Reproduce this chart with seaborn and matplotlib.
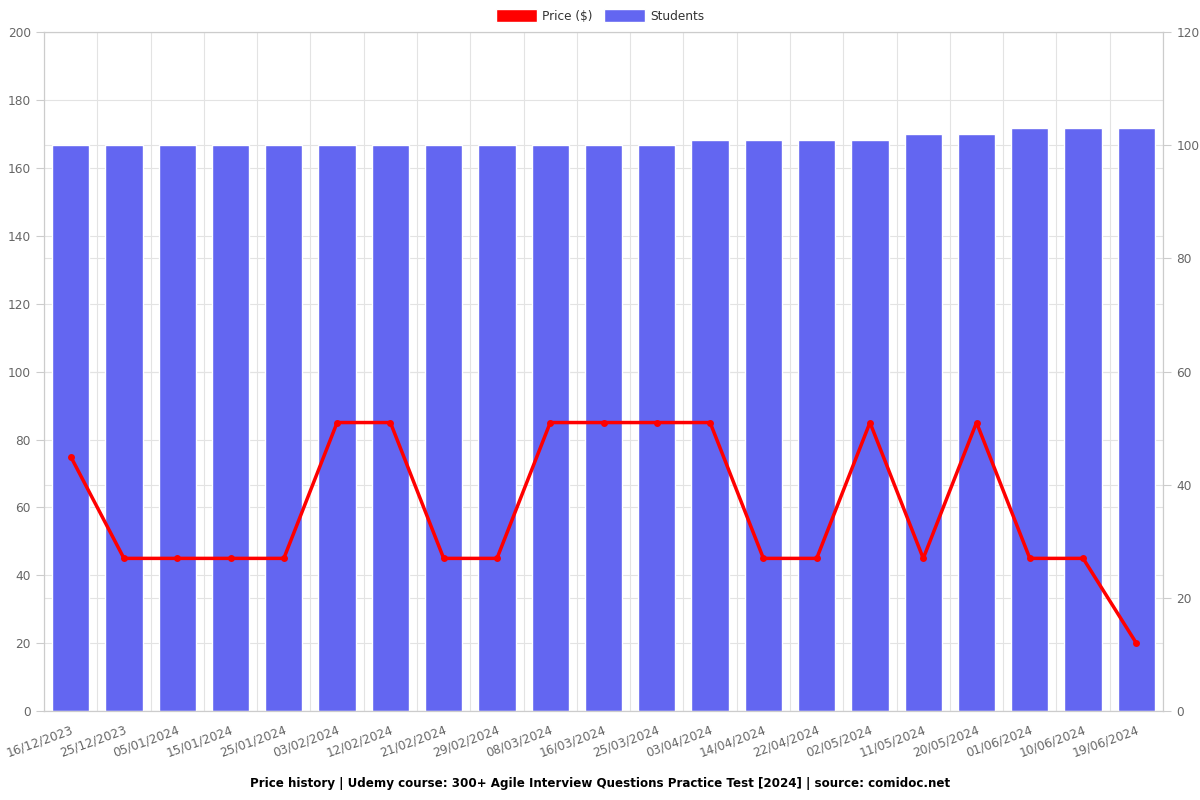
import numpy as np
import pandas as pd
import matplotlib
matplotlib.use('Agg')
import matplotlib.pyplot as plt
import seaborn as sns
from matplotlib.patches import Patch

sns.set_style("white")
plt.rcParams['font.family'] = ['DejaVu Sans']

# 数据
dates = ["16/12/2023", "25/12/2023", "05/01/2024", "15/01/2024", "25/01/2024",
         "03/02/2024", "12/02/2024", "21/02/2024", "29/02/2024", "08/03/2024",
         "16/03/2024", "25/03/2024", "03/04/2024", "14/04/2024", "22/04/2024",
         "02/05/2024", "11/05/2024", "20/05/2024", "01/06/2024", "10/06/2024",
         "19/06/2024"]
price = [75, 45, 45, 45, 45, 85, 85, 45, 45, 85, 85, 85, 85, 45, 45, 85, 45, 85, 45, 45, 20]
students = [100, 100, 100, 100, 100, 100, 100, 100, 100, 100, 100, 100,
            101, 101, 101, 101, 102, 102, 103, 103, 103]

df = pd.DataFrame({"date": dates, "price": price, "students": students})
df["pos"] = np.arange(len(df))

bar_color = "#6366f1"
line_color = "#ff0000"
grid_color = "#e3e3e3"
tick_color = "#666666"
fs = 8.7

fig = plt.figure(figsize=(12, 8), dpi=100)
ax = fig.add_axes([0.0367, 0.111, 0.9325, 0.849])
ax2 = ax.twinx()

# 柱状图（学生数，右轴）
sns.barplot(data=df, x="pos", y="students", color=bar_color, width=0.7,
            saturation=1, ax=ax2, zorder=2)
ax2.set_ylim(0, 120)
ax2.set_yticks(np.arange(0, 121, 20))
ax2.set_axisbelow(True)
# 网格线
for v in np.arange(0, 201, 20):
    ax2.axhline(v * 120 / 200, color=grid_color, lw=0.8, zorder=0)
for v in np.arange(0, 121, 20):
    ax2.axhline(v, color=grid_color, lw=0.8, zorder=0)
for b in np.arange(len(df) + 1) - 0.5:
    ax2.axvline(b, color=grid_color, lw=0.8, zorder=0)

# 折线图（价格，左轴）
sns.lineplot(data=df, x="pos", y="price", color=line_color, lw=2.5,
             marker="o", markersize=5, markeredgewidth=0, ax=ax, zorder=3)
ax.set_zorder(ax2.get_zorder() + 1)
ax.patch.set_visible(False)
ax.set_ylim(0, 200)
ax.set_yticks(np.arange(0, 201, 20))
ax.set_xlim(-0.5, len(df) - 0.5)
ax2.set_xlim(-0.5, len(df) - 0.5)

ax.set_xticks(df["pos"])
ax.set_xticklabels(dates, rotation=20, ha="right", rotation_mode="anchor")
ax.set_xticks(np.arange(len(df) + 1) - 0.5, minor=True)
ax.tick_params(axis="x", which="major", length=0, pad=9, labelsize=fs, labelcolor=tick_color)
ax.tick_params(axis="x", which="minor", length=6, color="#cccccc")
ax.tick_params(axis="y", length=6, color="#cccccc", labelsize=fs, labelcolor=tick_color)
ax2.tick_params(axis="y", length=6, color="#cccccc", labelsize=fs, labelcolor=tick_color)
ax2.tick_params(axis="x", length=0, labelbottom=False)

for a in (ax, ax2):
    a.set_xlabel("")
    a.set_ylabel("")
    for s in a.spines.values():
        s.set_color("#cccccc")
        s.set_linewidth(0.8)

handles = [Patch(facecolor=line_color, label="Price ($)"),
           Patch(facecolor=bar_color, label="Students")]
fig.legend(handles=handles, loc="center", bbox_to_anchor=(0.5, 0.98),
           ncol=2, frameon=False, fontsize=fs, handlelength=3.4, handleheight=1.2,
           columnspacing=1.0, handletextpad=0.4, labelcolor="#333333")

fig.text(0.5, 0.021,
         "Price history | Udemy course: 300+ Agile Interview Questions Practice Test [2024] | source: comidoc.net",
         ha="center", va="center", fontsize=8.6, fontweight="bold", color="black")

fig.savefig("out.png", dpi=100)
